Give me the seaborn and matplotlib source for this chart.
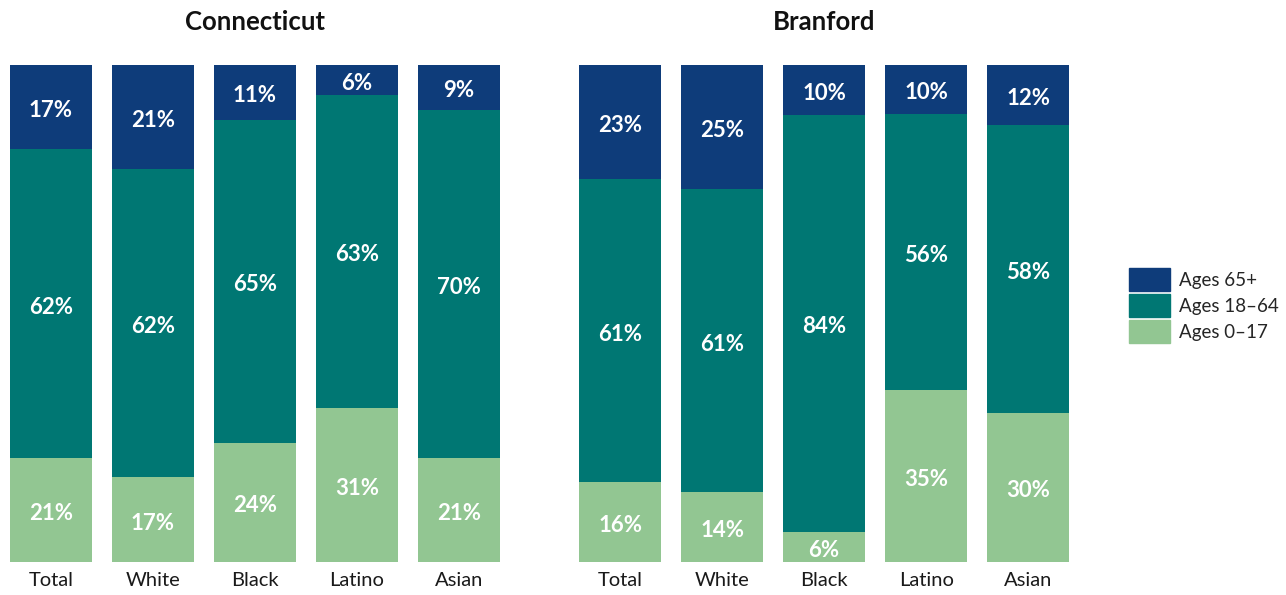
import pandas as pd
import seaborn as sns
import matplotlib.pyplot as plt
from matplotlib.patches import Patch

# data (percent of each group)
groups = ["Total", "White", "Black", "Latino", "Asian"]
ct_0_17 = [21, 17, 24, 31, 21]
ct_18_64 = [62, 62, 65, 63, 70]
ct_65 = [17, 21, 11, 6, 9]
br_0_17 = [16, 14, 6, 34.6, 30]
br_18_64 = [61, 61, 84, 55.6, 58]
br_65 = [23, 25, 10, 9.8, 12]

c_65 = "#0e3c7a"
c_18 = "#007773"
c_0 = "#92c692"

sns.set_style("white")
plt.rcParams["font.family"] = ["Lato", "DejaVu Sans"]

fig = plt.figure(figsize=(12.86, 5.95), dpi=100)
ax1 = fig.add_axes([0.0, 0.0555, 0.3966, 0.8353])
ax2 = fig.add_axes([0.4425, 0.0555, 0.3966, 0.8353])


def draw_panel(ax, title, young, mid, old):
    df = pd.DataFrame({"group": groups, "young": young, "mid": mid, "old": old})
    df["top"] = df["young"] + df["mid"] + df["old"]
    df["mid_top"] = df["young"] + df["mid"]
    # overlay cumulative bars
    for col, c in [("top", c_65), ("mid_top", c_18), ("young", c_0)]:
        sns.barplot(data=df, x="group", y=col, color=c, saturation=1, width=0.8,
                    linewidth=0, edgecolor="none", ax=ax)
    for i, row in df.iterrows():
        segs = [(0, row["young"]), (row["young"], row["mid"]), (row["mid_top"], row["old"])]
        for base, val in segs:
            ax.annotate(f"{val:.0f}%", (i, base + val / 2), xytext=(0, -2.5),
                        textcoords="offset points", ha="center", va="center",
                        color="white", fontsize=16, fontweight="bold")
    ax.set_xlim(-0.5, 4.5)
    ax.set_ylim(0, 100)
    ax.set_xlabel("")
    ax.set_ylabel("")
    ax.set_yticks([])
    ax.tick_params(axis="x", length=0, pad=7, labelsize=14.5, labelcolor="#1a1a1a")
    sns.despine(ax=ax, left=True, bottom=True)
    ax.set_title(title, fontsize=18.5, fontweight="bold", pad=25, color="#111111")


draw_panel(ax1, "Connecticut", ct_0_17, ct_18_64, ct_65)
draw_panel(ax2, "Branford", br_0_17, br_18_64, br_65)

handles = [Patch(color=c_65, label="Ages 65+"),
           Patch(color=c_18, label="Ages 18–64"),
           Patch(color=c_0, label="Ages 0–17")]
fig.legend(handles=handles, loc="center left", bbox_to_anchor=(1129 / 1286, 0.486),
           frameon=False, fontsize=13.5, handlelength=2.2, handleheight=1.5,
           labelspacing=0.17, handletextpad=0.45, borderpad=0, borderaxespad=0)

plt.savefig("out.png", dpi=100)
